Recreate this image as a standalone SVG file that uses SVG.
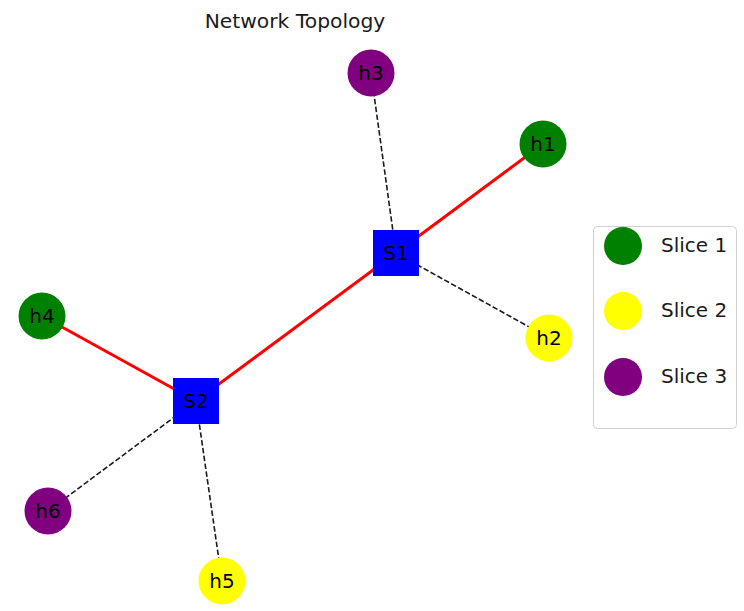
<svg xmlns="http://www.w3.org/2000/svg" width="744" height="611" viewBox="0 0 744 611">
<style>
text{font-family:"DejaVu Sans","Liberation Sans",sans-serif;font-size:20px;fill:#000}
.title{fill:#1a1a1a;font-size:20.3px}
.lbl{text-anchor:middle;dominant-baseline:central}
.red{stroke:#ff0000;stroke-width:3;fill:none}
.dash{stroke:#1a1a1a;stroke-width:1.6;stroke-dasharray:5.5 2.4;fill:none}
.g{fill:#008000}.y{fill:#ffff00}.p{fill:#800080}.b{fill:#0000ff}
.leg{fill:#1a1a1a;dominant-baseline:central}
</style>
<rect width="744" height="611" fill="#fff"/>
<text class="title" x="295" y="28" text-anchor="middle">Network Topology</text>
<g id="edges">
<line class="red" x1="396" y1="253" x2="543" y2="144"/>
<line class="red" x1="396" y1="253" x2="196" y2="401"/>
<line class="red" x1="196" y1="401" x2="42" y2="316"/>
<line class="dash" x1="396" y1="253" x2="371" y2="73"/>
<line class="dash" x1="396" y1="253" x2="549" y2="338"/>
<line class="dash" x1="196" y1="401" x2="48" y2="511"/>
<line class="dash" x1="196" y1="401" x2="222" y2="581"/>
</g>
<g id="S1"><rect class="b" x="373" y="230" width="46" height="46"/><text class="lbl" x="396" y="253">S1</text></g>
<g id="S2"><rect class="b" x="173" y="378" width="46" height="46"/><text class="lbl" x="196" y="401">S2</text></g>
<g id="h1"><circle class="g" cx="543" cy="144" r="23.5"/><text class="lbl" x="543" y="144">h1</text></g>
<g id="h2"><circle class="y" cx="549" cy="338" r="23.5"/><text class="lbl" x="549" y="338">h2</text></g>
<g id="h3"><circle class="p" cx="371" cy="73" r="23.5"/><text class="lbl" x="371" y="73">h3</text></g>
<g id="h4"><circle class="g" cx="42" cy="316" r="23.5"/><text class="lbl" x="42" y="316">h4</text></g>
<g id="h5"><circle class="y" cx="222" cy="581" r="23.5"/><text class="lbl" x="222" y="581">h5</text></g>
<g id="h6"><circle class="p" cx="48" cy="511" r="23.5"/><text class="lbl" x="48" y="511">h6</text></g>
<g id="legend">
<rect x="593.5" y="226.5" width="143" height="202" rx="4" fill="#fff" fill-opacity="0.8" stroke="#d0d0d0" stroke-width="1"/>
<circle class="g" cx="623" cy="246" r="19"/><text class="leg" x="661" y="245">Slice 1</text>
<circle class="y" cx="623" cy="311" r="19"/><text class="leg" x="661" y="310">Slice 2</text>
<circle class="p" cx="623" cy="377" r="19"/><text class="leg" x="661" y="376">Slice 3</text>
</g>
</svg>
